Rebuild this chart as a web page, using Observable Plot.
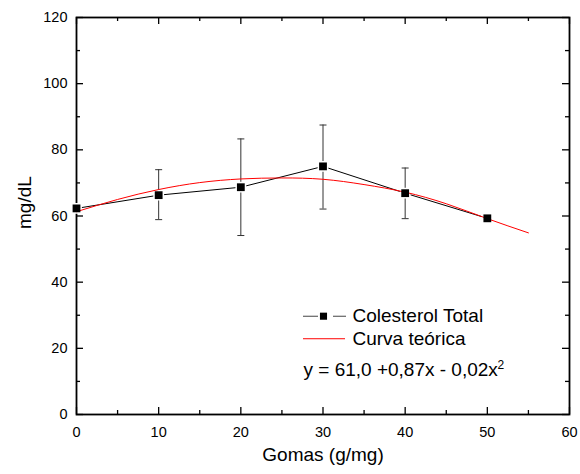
<!DOCTYPE html>
<html><head><meta charset="utf-8">
<script src="https://cdn.jsdelivr.net/npm/d3@7"></script>
<script src="https://cdn.jsdelivr.net/npm/@observablehq/plot@0.6"></script>
<style>
body{margin:0;background:#fff;}
svg{font-family:"Liberation Sans",Arial,sans-serif;}
</style></head>
<body><div id="chart"></div>
<script>
// Colesterol Total measurements
const doses = [0, 10, 20, 30, 40, 50];
const means = [62.3, 66.3, 68.7, 75.0, 66.9, 59.3];
const errLow = [null, 58.9, 54.1, 62.1, 59.2, null];
const errHigh = [null, 74.0, 83.3, 87.5, 74.5, null];
// theoretical curve
const curveX = [0, 5, 10, 15, 20, 25, 30, 35, 40, 45, 50, 55];
const curveY = [61.3, 65.0, 68.0, 70.1, 71.2, 71.5, 71.1, 69.5, 67.2, 63.7, 59.2, 54.9];
const xTicks = [0, 10, 20, 30, 40, 50, 60];
const yTicks = [0, 20, 40, 60, 80, 100, 120];
const xMinor = [5, 15, 25, 35, 45, 55];
const yMinor = [10, 30, 50, 70, 90, 110];
const legendLabels = ["Colesterol Total", "Curva teórica"];
const equation = "y = 61,0 +0,87x - 0,02x";

const pts = doses.map((d, i) => ({x: d, y: means[i], lo: errLow[i], hi: errHigh[i]}));
const errs = pts.filter(d => d.lo != null);
const curve = curveX.map((x, i) => ({x, y: curveY[i]}));

const W = 580, H = 474, mL = 76, mT = 17, mR = 11, mB = 60;
const pw = W - mL - mR, ph = H - mT - mB;
const font = '"Liberation Sans", Arial, sans-serif';

const capSymbol = {draw(ctx, size) { const w = 3.5; ctx.moveTo(-w, 0); ctx.lineTo(w, 0); }};
const tk = {stroke: "#000", strokeWidth: 1.3};

const plot = Plot.plot({
  width: W, height: H,
  marginLeft: mL, marginTop: mT, marginRight: mR, marginBottom: mB,
  style: {fontFamily: font, background: "#fff"},
  x: {domain: [0, 60]},
  y: {domain: [0, 120]},
  marks: [
    // inward ticks on all four sides
    Plot.ruleX(xTicks, {x: d => d, insetTop: ph - 7, ...tk}),
    Plot.ruleX(xTicks, {x: d => d, insetBottom: ph - 7, ...tk}),
    Plot.ruleX(xMinor, {x: d => d, insetTop: ph - 4, ...tk}),
    Plot.ruleX(xMinor, {x: d => d, insetBottom: ph - 4, ...tk}),
    Plot.ruleY(yTicks, {y: d => d, insetRight: pw - 7, ...tk}),
    Plot.ruleY(yTicks, {y: d => d, insetLeft: pw - 7, ...tk}),
    Plot.ruleY(yMinor, {y: d => d, insetRight: pw - 4, ...tk}),
    Plot.ruleY(yMinor, {y: d => d, insetLeft: pw - 4, ...tk}),
    Plot.frame({stroke: "#000", strokeWidth: 1.8}),
    Plot.axisX({ticks: xTicks, tickSize: 0, tickPadding: 12.5, fontSize: 14.5, label: null, tickFormat: d => d}),
    Plot.axisY({ticks: yTicks, tickSize: 0, tickPadding: 9, fontSize: 14.5, label: null, tickFormat: d => d}),
    Plot.text(["Gomas (g/mg)"], {frameAnchor: "bottom", lineAnchor: "bottom", dy: 46, fontSize: 19, fill: "#000"}),
    Plot.text(["mg/dL"], {frameAnchor: "left", dx: -52, dy: 13, rotate: -90, fontSize: 19, fill: "#000"}),
    // error bars
    Plot.ruleX(errs, {x: "x", y1: "lo", y2: "hi", stroke: "#333", strokeWidth: 1}),
    Plot.dot(errs, {x: "x", y: "lo", symbol: capSymbol, r: 4, stroke: "#333", strokeWidth: 1}),
    Plot.dot(errs, {x: "x", y: "hi", symbol: capSymbol, r: 4, stroke: "#333", strokeWidth: 1}),
    // data line
    Plot.line(pts, {x: "x", y: "y", stroke: "#000", strokeWidth: 1}),
    Plot.dot(pts, {x: "x", y: "y", symbol: "square", r: 4.4, fill: "#fff", stroke: "#fff", strokeWidth: 3}),
    // theoretical curve
    Plot.line(curve, {x: "x", y: "y", curve: "natural", stroke: "#f00", strokeWidth: 1}),
    Plot.dot(pts, {x: "x", y: "y", symbol: "square", r: 4.4, fill: "#000", stroke: "none"}),
    // legend
    Plot.ruleY([29.7], {insetLeft: 227, insetRight: 251, stroke: "#444", strokeWidth: 1}),
    Plot.ruleY([29.7], {insetLeft: 257, insetRight: 223, stroke: "#444", strokeWidth: 1}),
    Plot.dot([0], {frameAnchor: "top-left", dx: 247, dy: 298.7, symbol: "square", r: 4, fill: "#000"}),
    Plot.ruleY([22.9], {insetLeft: 227, insetRight: 224, stroke: "#f00", strokeWidth: 1}),
    Plot.text([legendLabels[0]], {frameAnchor: "top-left", lineAnchor: "bottom", dx: 276, dy: 304.7, textAnchor: "start", fontSize: 19, fill: "#000"}),
    Plot.text([legendLabels[1]], {frameAnchor: "top-left", lineAnchor: "bottom", dx: 276, dy: 327.3, textAnchor: "start", fontSize: 19, fill: "#000"}),
    Plot.text([equation], {frameAnchor: "top-left", lineAnchor: "bottom", dx: 227, dy: 358, textAnchor: "start", fontSize: 19, fill: "#000"}),
    Plot.text(["2"], {frameAnchor: "top-left", lineAnchor: "bottom", dx: 421, dy: 351.6, textAnchor: "start", fontSize: 12, fill: "#000"})
  ]
});
document.getElementById("chart").appendChild(plot);
</script></body></html>
